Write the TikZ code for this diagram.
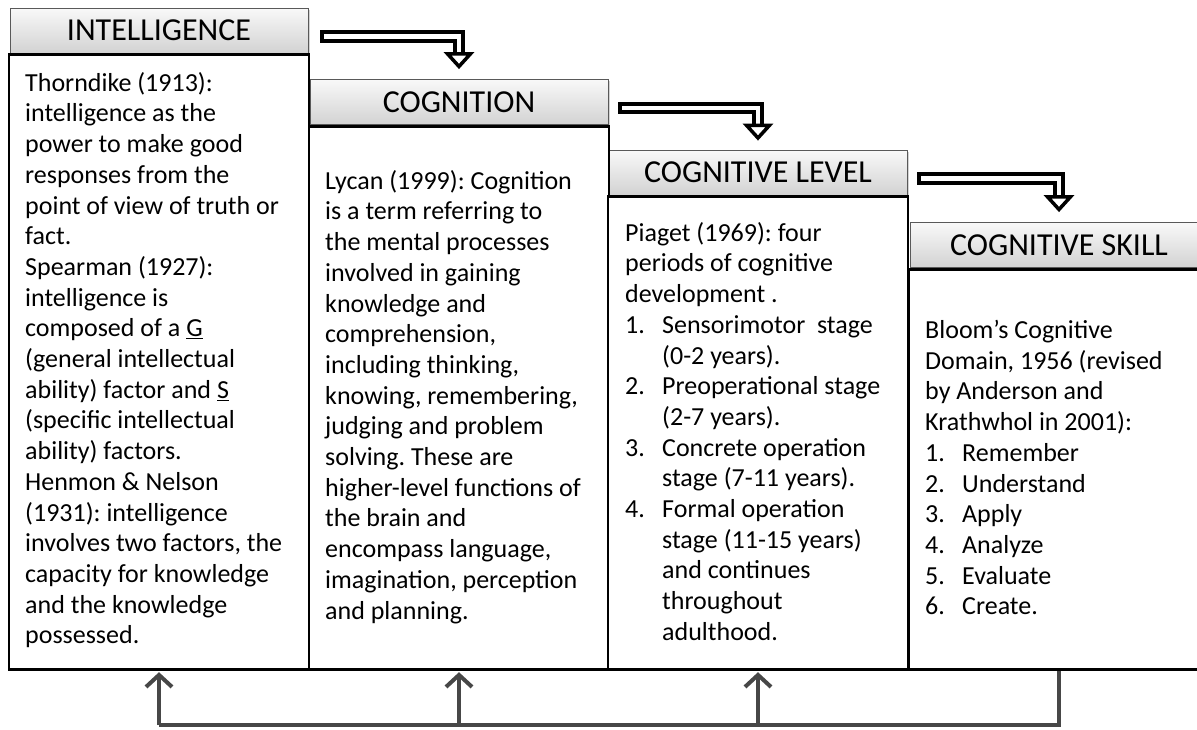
\documentclass[tikz,border=0pt]{standalone}
\usepackage{fontspec}
\setmainfont{Carlito}
\usetikzlibrary{arrows.meta,shadows}
\newcommand{\stepnum}[1]{\makebox[37pt][l]{#1}}
\newcommand{\stepgap}{\hspace*{37pt}}

\begin{document}
\frenchspacing
\begin{tikzpicture}[x=1pt,y=-1pt,
    hdr/.style={draw=gray!70!black, line width=0.8pt, top color=gray!5, bottom color=gray!35,
      minimum width=298pt, minimum height=45pt, inner sep=0pt,
      font=\fontsize{32pt}{36pt}\selectfont,
      drop shadow={shadow xshift=1.5pt, shadow yshift=-1.5pt, opacity=0.35}},
    body/.style={draw=black, line width=2.8pt, fill=white, minimum width=300pt, anchor=north, inner sep=0pt},
    txt/.style={anchor=north west, align=left, inner sep=0pt, font=\fontsize{26pt}{30.7pt}\selectfont},
    flow/.style={draw=black, line width=3.8pt, double=white, double distance=4.5pt,
      line cap=rect, line join=miter,
      -{Triangle[open, fill=white, width=30pt, length=17pt, line width=3.5pt]}},
    bus/.style={draw=black!72, line width=4pt, line join=miter},
    busarrow/.style={bus, -{Straight Barb[length=12pt,width=26pt]}}]
          \clip (0,0) rectangle (1197,729);
          \node[hdr] (h1) at ( 159, 30.5) {INTELLIGENCE};
          \node[hdr] (h2) at ( 459,102)   {COGNITION};
          \node[hdr] (h3) at ( 758,172.5) {COGNITIVE LEVEL};
          \node[hdr] (h4) at (1059,245)   {COGNITIVE SKILL};
          \node[body, minimum height=615pt]   (b1) at (h1.south) {};
          \node[body, minimum height=543.5pt] (b2) at (h2.south) {};
          \node[body, minimum height=473pt]   (b3) at (h3.south) {};
          \node[body, minimum height=400.5pt] (b4) at (h4.south) {};
          %% texts are placed by hand, line breaks as printed
          \node[txt] (t1) at (25,72) {Thorndike (1913):\\ intelligence as the\\ power to make good\\
            responses from the\\ point of view of truth or\\ fact.\\ Spearman (1927):\\ intelligence is\\
            composed of a \underline{G}\\ (general intellectual\\ ability) factor and \underline{S}\\
            (specific intellectual\\ ability) factors.\\ Henmon \& Nelson\\ (1931): intelligence\\
            involves two factors, the\\ capacity for knowledge\\ and the knowledge\\ possessed.};
          \node[txt] (t2) at (325,170) {Lycan (1999): Cognition\\ is a term referring to\\
            the mental processes\\ involved in gaining\\ knowledge and\\ comprehension,\\
            including thinking,\\ knowing, remembering,\\ judging and problem\\ solving. These are\\
            higher-level functions of\\ the brain and\\ encompass language,\\
            imagination, perception\\ and planning.};
          \node[txt] (t3) at (625,222) {Piaget (1969): four\\ periods of cognitive\\ development .\\
            \stepnum{1.}Sensorimotor\ \ stage\\ \stepgap(0-2 years).\\
            \stepnum{2.}Preoperational stage\\ \stepgap(2-7 years).\\
            \stepnum{3.}Concrete operation\\ \stepgap stage (7-11 years).\\
            \stepnum{4.}Formal operation\\ \stepgap stage (11-15 years)\\
            \stepgap and continues\\ \stepgap throughout\\ \stepgap adulthood.};
          \node[txt] (t4) at (925,320) {Bloom's Cognitive\\ Domain, 1956 (revised\\ by Anderson and\\
            Krathwhol in 2001):\\ \stepnum{1.}Remember\\ \stepnum{2.}Understand\\ \stepnum{3.}Apply\\
            \stepnum{4.}Analyze\\ \stepnum{5.}Evaluate\\ \stepnum{6.}Create.};
          \draw[flow] ([xshift=18pt,yshift=-6pt]h1.east) -| ([yshift=10pt]h2.north);
          \draw[flow] ([xshift=16pt,yshift=-6pt]h2.east) -| ([yshift=9pt]h3.north);
          \draw[flow] ([xshift=16pt,yshift=-6pt]h3.east) -| ([yshift=10pt]h4.north);
          \coordinate (bus) at (0,725);
          \draw[bus] (b4.south) |- (b1.south |- bus);
          \foreach \b in {b1,b2,b3}
            \draw[busarrow] (\b.south |- bus) -- ([yshift=-1pt]\b.south);
        \end{tikzpicture}
\end{document}
